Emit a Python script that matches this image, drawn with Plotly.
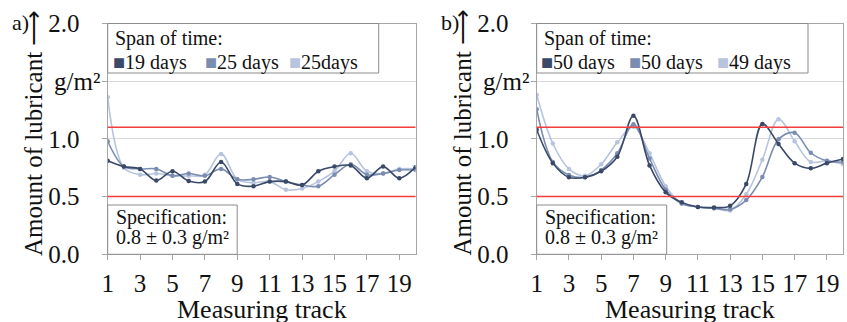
import plotly.graph_objects as go

W, H = 847, 322

tracks = list(range(1, 21))

# Panel a) series
a_labels = ["19 days", "25 days", "25days"]
a_dark = [0.81, 0.76, 0.74, 0.64, 0.72, 0.635, 0.63, 0.80, 0.61, 0.59, 0.63, 0.63, 0.60, 0.72, 0.76, 0.77, 0.66, 0.76, 0.66, 0.755]
a_med = [0.98, 0.76, 0.74, 0.74, 0.68, 0.70, 0.68, 0.74, 0.65, 0.65, 0.67, 0.63, 0.60, 0.59, 0.69, 0.78, 0.69, 0.70, 0.73, 0.73]
a_light = [1.36, 0.75, 0.69, 0.70, 0.68, 0.68, 0.69, 0.87, 0.65, 0.62, 0.63, 0.56, 0.57, 0.63, 0.72, 0.875, 0.72, 0.70, 0.74, 0.74]

# Panel b) series
b_labels = ["50 days", "50 days", "49 days"]
b_dark = [1.08, 0.79, 0.667, 0.667, 0.72, 0.846, 1.20, 0.77, 0.537, 0.45, 0.41, 0.405, 0.42, 0.61, 1.13, 0.956, 0.79, 0.745, 0.79, 0.826]
b_med = [1.256, 0.80, 0.687, 0.667, 0.73, 0.875, 1.127, 0.83, 0.56, 0.44, 0.41, 0.40, 0.39, 0.47, 0.67, 0.996, 1.054, 0.88, 0.81, 0.80]
b_light = [1.38, 0.96, 0.74, 0.68, 0.78, 0.97, 1.106, 0.875, 0.59, 0.44, 0.41, 0.40, 0.38, 0.52, 0.82, 1.17, 0.98, 0.80, 0.81, 0.78]

spec_center = 0.8
spec_tol = 0.3

y_tickvals = [0.0, 0.5, 1.0, 1.5, 2.0]
y_ticktext = ["0.0", "0.5", "1.0", "", "2.0"]
x_tickvals = list(range(1, 21, 2))

colors = ["#3a4968", "#7a8db1", "#b7c4de"]
red = "#f43c3c"
FONT = "Liberation Serif"

fig = go.Figure()

def add_series(series, xa, ya):
    # draw light first so dark on top
    for vals, col in reversed(list(zip(series, colors))):
        fig.add_trace(go.Scatter(
            x=tracks, y=vals, xaxis=xa, yaxis=ya, mode="lines+markers",
            line=dict(color=col, width=1.6, shape="spline", smoothing=1.0),
            marker=dict(color=col, size=4.5), showlegend=False, hoverinfo="skip"))

add_series([a_dark, a_med, a_light], "x", "y")
add_series([b_dark, b_med, b_light], "x2", "y2")

pl = [(107.7, 415.5), (536.7, 843.0)]
ybot, ytop = 254.3, 23.5
px = lambda v: v / W
py = lambda v: 1 - v / H

axis_common = dict(
    showline=True, mirror=True, linecolor="#a6a6a6", linewidth=1.2,
    ticks="outside", ticklen=5, tickcolor="#a6a6a6",
    tickfont=dict(family=FONT, size=25, color="#111"),
    zeroline=False, automargin=False,
)

layout = dict(
    width=W, height=H, margin=dict(l=0, r=0, t=0, b=0, autoexpand=False),
    plot_bgcolor="white", paper_bgcolor="white",
    font=dict(family=FONT, color="#111"),
)
for i, (x0, x1) in enumerate(pl):
    sfx = "" if i == 0 else str(i + 1)
    layout["xaxis" + sfx] = dict(
        axis_common, domain=[px(x0), px(x1)], range=[1, 20],
        tickvals=x_tickvals, showgrid=False, anchor="y" + sfx,
        ticklabelstandoff=2)
    layout["yaxis" + sfx] = dict(
        axis_common, domain=[py(ybot), py(ytop)], range=[0, 2],
        tickvals=y_tickvals, ticktext=y_ticktext, showgrid=True,
        gridcolor="#d9d9d9", gridwidth=1, anchor="x" + sfx,
        ticklabelstandoff=17)
fig.update_layout(**layout)

shapes = []
annotations = []
for i, (x0, x1) in enumerate(pl):
    sfx = "" if i == 0 else str(i + 1)
    xr = "x" + sfx
    yr = "y" + sfx
    for lv in (spec_center - spec_tol, spec_center + spec_tol):
        shapes.append(dict(type="line", xref=xr + " domain", yref=yr,
                           x0=0, x1=1, y0=lv, y1=lv,
                           line=dict(color=red, width=1.5), layer="above"))
    # legend box
    lw = 271 if i == 0 else 271.3
    shapes.append(dict(type="rect", xref="paper", yref="paper",
                       x0=px(x0), x1=px(x0 + lw), y0=py(73), y1=py(ytop),
                       line=dict(color="#8c8c8c", width=1), fillcolor="white", layer="above"))
    # spec box
    sw = 129.5 if i == 0 else 130
    shapes.append(dict(type="rect", xref="paper", yref="paper",
                       x0=px(x0), x1=px(x0 + sw), y0=py(ybot), y1=py(205),
                       line=dict(color="#8c8c8c", width=1), fillcolor="white", layer="above"))

    labels = a_labels if i == 0 else b_labels
    annotations.append(dict(xref="paper", yref="paper", x=px(x0 + 5), y=py(38),
                            xanchor="left", yanchor="middle", showarrow=False,
                            text="Span of time:", font=dict(family=FONT, size=20, color="#111")))
    offs = [3, 95, 179] if i == 0 else [2, 90, 178]
    for lab, col, o in zip(labels, colors, offs):
        annotations.append(dict(xref="paper", yref="paper", x=px(x0 + o), y=py(62),
                                xanchor="left", yanchor="middle", showarrow=False,
                                text=f"<span style='color:{col}'>■</span>{lab}",
                                font=dict(family=FONT, size=20, color="#111")))
    annotations.append(dict(xref="paper", yref="paper", x=px(x0 + 6), y=py(218),
                            xanchor="left", yanchor="middle", showarrow=False,
                            text="Specification:", font=dict(family=FONT, size=20, color="#111")))
    annotations.append(dict(xref="paper", yref="paper", x=px(x0 + 6), y=py(238),
                            xanchor="left", yanchor="middle", showarrow=False,
                            text=f"{spec_center} ± {spec_tol} g/m²",
                            font=dict(family=FONT, size=20, color="#111")))
    # unit label at 1.5
    annotations.append(dict(xref="paper", yref=yr, x=px(x0 - 6), y=1.5,
                            xanchor="right", yanchor="middle", showarrow=False,
                            text="g/m²", font=dict(family=FONT, size=25, color="#111")))
    # y title
    base = 0 if i == 0 else 428.5
    annotations.append(dict(xref="paper", yref="paper", x=px(base + 33), y=py(133),
                            xanchor="center", yanchor="middle", showarrow=False, textangle=-90,
                            text="Amount of lubricant ⟶", font=dict(family=FONT, size=25, color="#111")))
    # panel letter
    annotations.append(dict(xref="paper", yref="paper", x=px(base + 10), y=py(22),
                            xanchor="left", yanchor="middle", showarrow=False,
                            text="a)" if i == 0 else "b)", font=dict(family=FONT, size=22, color="#111")))
    # x title
    annotations.append(dict(xref="paper", yref="paper", x=px((x0 + x1) / 2), y=py(293),
                            xanchor="center", yanchor="top", showarrow=False,
                            text="Measuring track", font=dict(family=FONT, size=26, color="#111")))

fig.update_layout(shapes=shapes, annotations=annotations)
fig.write_html("out.html")
